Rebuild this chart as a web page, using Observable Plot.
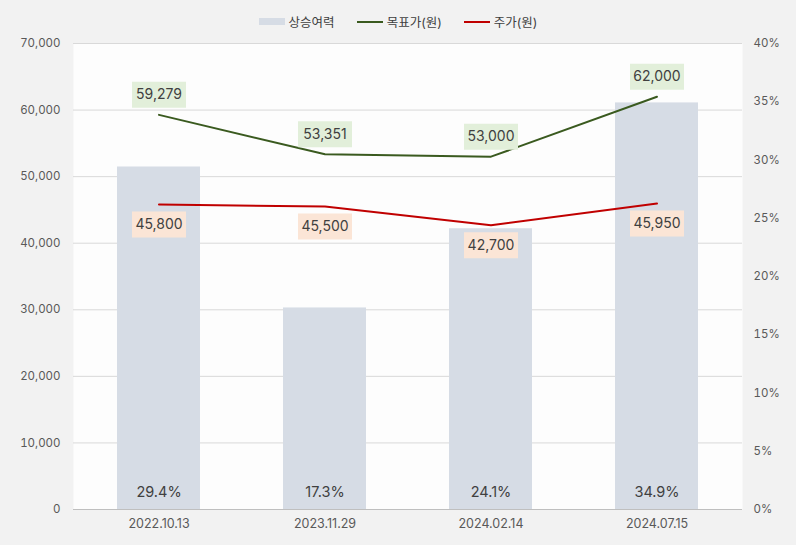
<!DOCTYPE html>
<html><head><meta charset="utf-8">
<script src="https://cdn.jsdelivr.net/npm/d3@7"></script>
<script src="https://cdn.jsdelivr.net/npm/@observablehq/plot@0.6"></script>
<style>
body{margin:0;background:#f2f2f2;font-family:Inter,"Noto Sans CJK KR","Noto Sans",sans-serif;}
#wrap{position:relative;width:796px;height:545px;}
#legend{position:absolute;top:12px;left:0;width:796px;display:flex;justify-content:center;gap:22px;font-size:12.5px;color:#404040;}
#legend span{display:flex;align-items:center;}
.sw{display:inline-block;margin-right:4px;}
</style></head><body>
<div id="wrap"><div id="legend"></div><div id="chart"></div></div>
<script>
const dates = ["2022.10.13","2023.11.29","2024.02.14","2024.07.15"];
const upside = [29.4, 17.3, 24.1, 34.9];
const target = [59279, 53351, 53000, 62000];
const price = [45800, 45500, 42700, 45950];
const leftTicks = [0,10000,20000,30000,40000,50000,60000,70000];
const rightTicks = [0,5,10,15,20,25,30,35,40];

const yMax = 70000, pMax = 40;
const toY = p => p / pMax * yMax;
const data = dates.map((d,i)=>({date:d, upside:upside[i], target:target[i], price:price[i]}));

const box = {draw(ctx){ ctx.rect(-27,-13,54,26); }};
const font = "Inter, Noto Sans CJK KR, Noto Sans, sans-serif";

const chart = Plot.plot({
  width:796, height:545,
  marginLeft:73, marginRight:54, marginTop:43, marginBottom:36,
  style:{background:"transparent", fontFamily:font, color:"#595959"},
  x:{type:"band", domain:dates, paddingInner:0.5, paddingOuter:0.26, label:null},
  y:{domain:[0,yMax], label:null},
  marks:[
    Plot.frame({fill:"#fdfdfd", stroke:null}),
    Plot.gridY(leftTicks, {stroke:"#d9d9d9", strokeOpacity:1}),
    Plot.barY(data, {x:"date", y:d=>toY(d.upside), fill:"#d6dce5"}),
    Plot.ruleY([0], {stroke:"#bfbfbf"}),
    Plot.axisY(leftTicks, {anchor:"left", tickSize:0, tickPadding:13, tickFormat:d3.format(","), fontSize:11.5, label:null}),
    Plot.axisY(rightTicks.map(toY), {anchor:"right", tickSize:0, tickPadding:11, tickFormat:d=>Math.round(d/yMax*pMax)+"%", fontSize:11.5, label:null}),
    Plot.axisX({tickSize:0, tickPadding:10, fontSize:12.5, label:null}),
    Plot.line(data, {x:"date", y:"target", stroke:"#3a5a1f", strokeWidth:2}),
    Plot.line(data, {x:"date", y:"price", stroke:"#c00000", strokeWidth:2}),
    Plot.text(data, {x:"date", y:0, dy:-17, text:d=>d.upside.toFixed(1)+"%", fontSize:14.5, fill:"#404040"}),
    Plot.dot(data, {x:"date", y:"target", dy:-20, symbol:box, fill:"#e2efda", stroke:null}),
    Plot.text(data, {x:"date", y:"target", dy:-20, text:d=>d3.format(",")(d.target), fontSize:14, fill:"#404040"}),
    Plot.dot(data, {x:"date", y:"price", dy:20, symbol:box, fill:"#fbe5d6", stroke:null}),
    Plot.text(data, {x:"date", y:"price", dy:20, text:d=>d3.format(",")(d.price), fontSize:14, fill:"#404040"})
  ]
});
document.getElementById("chart").appendChild(chart);

const legendItems = [
  {label:"상승여력", type:"rect", color:"#d6dce5"},
  {label:"목표가(원)", type:"line", color:"#3a5a1f"},
  {label:"주가(원)", type:"line", color:"#c00000"}
];
const lg = document.getElementById("legend");
legendItems.forEach(it=>{
  const s = document.createElement("span");
  const sw = document.createElement("i");
  sw.className="sw";
  sw.style.width="26px";
  sw.style.height = it.type==="rect" ? "7px" : "2px";
  sw.style.background = it.color;
  s.appendChild(sw);
  s.appendChild(document.createTextNode(it.label));
  lg.appendChild(s);
});
</script>
</body></html>
